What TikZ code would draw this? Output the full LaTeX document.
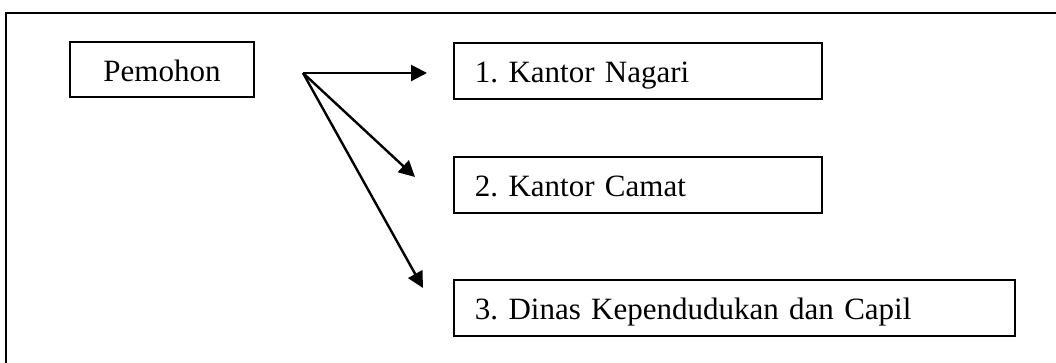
\documentclass[tikz,border=0pt]{standalone}
\usepackage{fontspec}
\setmainfont{Liberation Serif}
\usetikzlibrary{arrows.meta}
\frenchspacing
\begin{document}
\begin{tikzpicture}[x=1pt,y=-1pt,
  box/.style={draw, line width=1.9pt, inner sep=0pt,
    font=\fontsize{31}{37}\selectfont\frenchspacing, text height=24pt, text depth=0pt,
    minimum height=56pt},
  listbox/.style={box, align=left, inner xsep=21pt, anchor=north west},
  flow/.style={line width=2.4pt, -{Triangle[length=16pt,width=16pt]}}]
\useasboundingbox (0,0) rectangle (1056,363);
% outer frame (only top and left sides fall on the page)
\draw[line width=2.4pt] (1060,13) -- (6,13) -- (6,367);
% applicant
\node[box, minimum width=184pt, minimum height=55pt] (pem) at (162,69.5) {Pemohon};
% offices
\node[listbox, text width=326pt] (b1) at (453,42) {1. Kantor Nagari};
\node[listbox, text width=326pt] (b2) at (453,156) {2. Kantor Camat};
\node[listbox, text width=519pt] (b3) at (453,279) {3. Dinas Kependudukan dan Capil};
% fan of arrows
\coordinate (o) at (303,73);
\coordinate (t1) at (427,73);
\coordinate (t2) at (415,177);
\coordinate (t3) at (423,288);
\draw[flow] (o) -- (t1);
\draw[flow] (o) -- (t2);
\draw[flow] (o) -- (t3);
\end{tikzpicture}
\end{document}
